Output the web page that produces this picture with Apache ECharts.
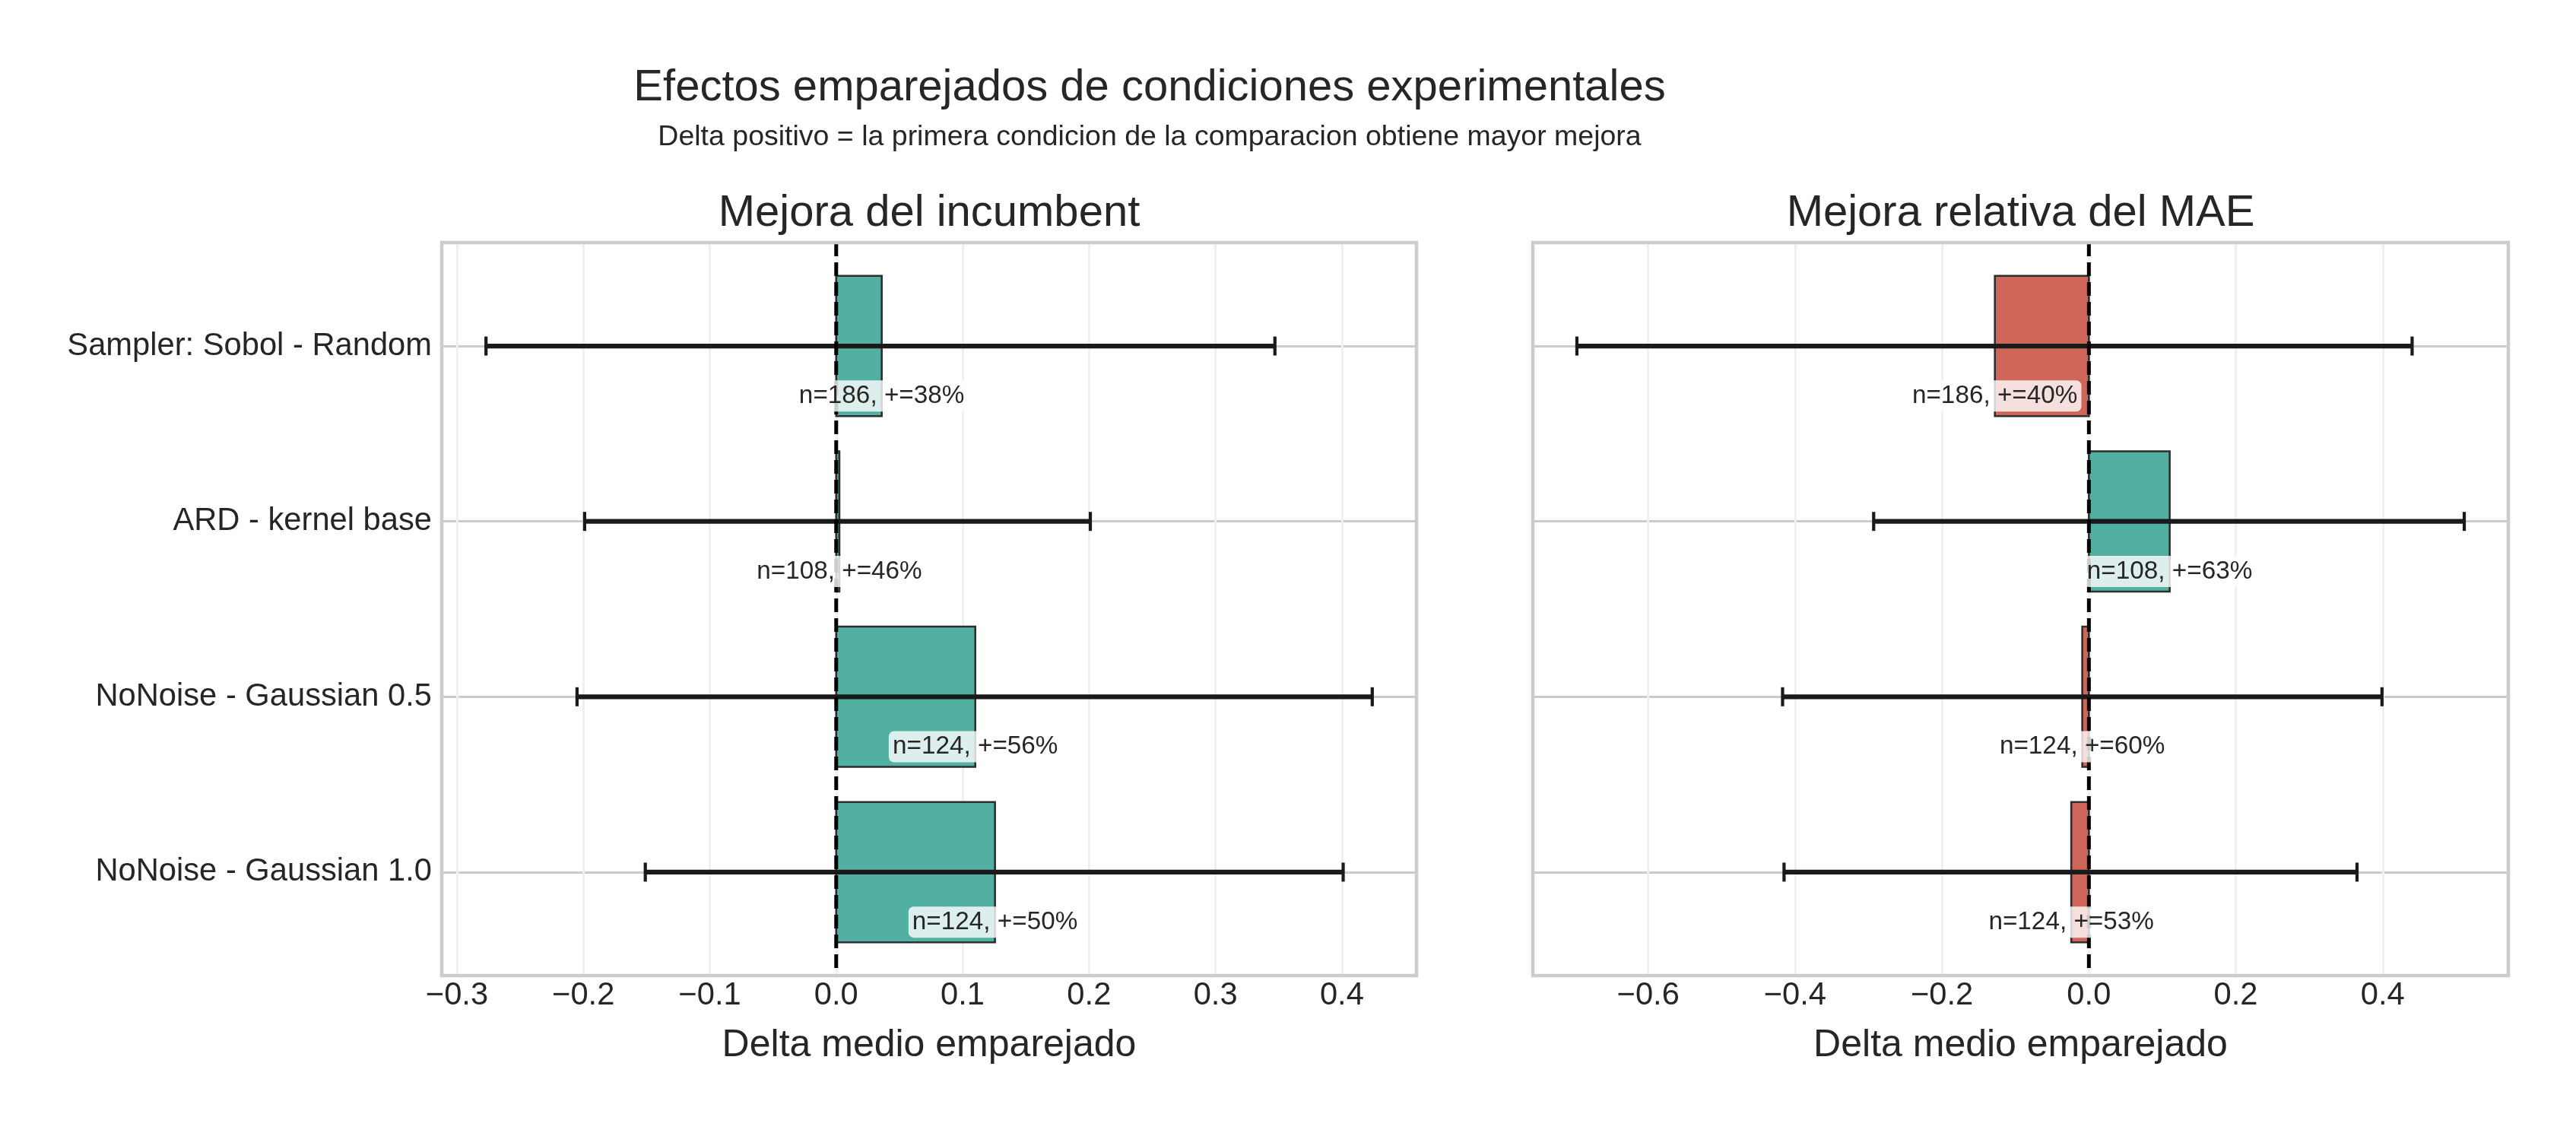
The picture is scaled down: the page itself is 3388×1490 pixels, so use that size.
<!DOCTYPE html>
<html><head><meta charset="utf-8">
<script src="https://cdn.jsdelivr.net/npm/echarts@6/dist/echarts.min.js"></script>
<style>html,body{margin:0;padding:0;background:#fff}#c{width:3388px;height:1490px}</style>
</head><body><div id="c"></div>
<script>
// ---------------- data ----------------
const categories = ["Sampler: Sobol - Random", "ARD - kernel base", "NoNoise - Gaussian 0.5", "NoNoise - Gaussian 1.0"];

const incMean = [0.036, 0.0025, 0.110, 0.1256];
const incLow  = [-0.277, -0.199, -0.205, -0.151];
const incHigh = [0.347, 0.201, 0.424, 0.401];
const incN    = [186, 108, 124, 124];
const incPosPct = [38, 46, 56, 50];

const maeMean = [-0.128, 0.110, -0.009, -0.024];
const maeLow  = [-0.697, -0.293, -0.417, -0.415];
const maeHigh = [0.440, 0.511, 0.399, 0.365];
const maeN    = [186, 108, 124, 124];
const maePosPct = [40, 63, 60, 53];

const incXLimits = [-0.312, 0.459];
const maeXLimits = [-0.757, 0.571];
const incTickStep = 0.1;
const maeTickStep = 0.2;

const mainTitle = "Efectos emparejados de condiciones experimentales";
const subTitle = "Delta positivo = la primera condicion de la comparacion obtiene mayor mejora";
const panelTitles = ["Mejora del incumbent", "Mejora relativa del MAE"];
const xAxisName = "Delta medio emparejado";

// ---------------- layout / style ----------------
const FONT = "'Liberation Sans', Arial, Helvetica, sans-serif";
const TXT = '#262626';
const POS = '#52b0a3', NEG = '#ce675a';
const W = 3388, H = 1490;
const yMin = -0.59, yMax = 3.59;
const frameTop = 319, frameBottom = 1283;
const frameH = frameBottom - frameTop;
const unit = frameH / (yMax - yMin);
const catTop = frameTop + (0 - yMin) * unit;
const catH = (categories.length - 1) * unit;
const panels = [
  {x0: 581, x1: 1863},
  {x0: 2016, x1: 3299}
];

function rows(mean, lo, hi, n, pct) {
  return mean.map((m, i) => [i, m, lo[i], hi[i], n[i], pct[i]]);
}
const panelData = [
  rows(incMean, incLow, incHigh, incN, incPosPct),
  rows(maeMean, maeLow, maeHigh, maeN, maePosPct)
];
const panelLimits = [incXLimits, maeXLimits];
const panelSteps = [incTickStep, maeTickStep];

function fmtTick(v) {
  const s = (Math.abs(v) < 1e-9 ? 0 : v).toFixed(1);
  return s.replace('-', '\u2212');
}

function renderBars(params, api) {
  const i = api.value(0), m = api.value(1), lo = api.value(2), hi = api.value(3);
  const a = api.coord([0, i - 0.4]), b = api.coord([m, i + 0.4]);
  const l = api.coord([lo, i]), h = api.coord([hi, i]);
  const cap = 12.5;
  return {
    type: 'group',
    children: [
      {type: 'rect', shape: {x: Math.min(a[0], b[0]), y: Math.min(a[1], b[1]), width: Math.abs(b[0] - a[0]), height: Math.abs(b[1] - a[1])},
       style: {fill: m >= 0 ? POS : NEG, stroke: '#2e2e2e', lineWidth: 2.6}},
      {type: 'line', shape: {x1: l[0], y1: l[1], x2: h[0], y2: h[1]}, style: {stroke: '#1a1a1a', lineWidth: 6.2}},
      {type: 'line', shape: {x1: l[0], y1: l[1] - cap, x2: l[0], y2: l[1] + cap}, style: {stroke: '#1a1a1a', lineWidth: 4.2}},
      {type: 'line', shape: {x1: h[0], y1: h[1] - cap, x2: h[0], y2: h[1] + cap}, style: {stroke: '#1a1a1a', lineWidth: 4.2}}
    ]
  };
}
function renderZero(params, api) {
  const x = api.coord([api.value(0), 0])[0];
  const cs = params.coordSys;
  return {type: 'line', shape: {x1: x, y1: cs.y, x2: x, y2: cs.y + cs.height},
          style: {stroke: '#000000', lineWidth: 5, lineDash: [18, 8]}};
}
function renderLabels(params, api) {
  const i = api.value(0), m = api.value(1), n = api.value(4), pct = api.value(5);
  const p = api.coord([m, i + 0.285]);
  return {type: 'text', x: p[0], y: p[1],
    style: {text: 'n=' + n + ', +=' + pct + '%', fontSize: 33.3, fontFamily: FONT, fill: TXT,
            align: 'center', verticalAlign: 'middle', textAlign: 'center', textVerticalAlign: 'middle',
            backgroundColor: 'rgba(255,255,255,0.8)', padding: [4, 5], borderRadius: 7}};
}

const grid = [], xAxis = [], yAxis = [], series = [];
panels.forEach((p, k) => {
  const fg = grid.length;
  grid.push({left: p.x0, width: p.x1 - p.x0, top: frameTop, height: frameH, show: true,
             borderColor: '#cccccc', borderWidth: 4.5, backgroundColor: 'transparent', z: 10,
             containLabel: false, outerBoundsMode: 'none'});
  grid.push({left: p.x0, width: p.x1 - p.x0, top: catTop, height: catH, show: false,
             containLabel: false, outerBoundsMode: 'none'});
  xAxis.push({type: 'value', gridIndex: fg, min: panelLimits[k][0], max: panelLimits[k][1],
    minInterval: panelSteps[k], maxInterval: panelSteps[k], splitNumber: 8,
    axisLine: {show: false}, axisTick: {show: false},
    splitLine: {show: true, lineStyle: {color: '#f0f0f0', width: 3}},
    axisLabel: {show: true, fontSize: 41.7, fontFamily: FONT, color: TXT, margin: 6,
                showMinLabel: false, showMaxLabel: false, formatter: fmtTick},
    name: xAxisName, nameLocation: 'middle', nameGap: 67,
    nameTextStyle: {fontSize: 50, fontFamily: FONT, color: TXT}});
  xAxis.push({type: 'value', gridIndex: fg + 1, min: panelLimits[k][0], max: panelLimits[k][1], show: false});
  yAxis.push({type: 'value', gridIndex: fg, min: yMin, max: yMax, inverse: true, show: false});
  yAxis.push({type: 'category', gridIndex: fg + 1, data: categories, boundaryGap: false, inverse: true,
    axisLine: {show: false}, axisTick: {show: false},
    splitLine: {show: true, lineStyle: {color: '#cccccc', width: 3}},
    axisLabel: {show: k === 0, fontSize: 41.7, fontFamily: FONT, color: TXT, margin: 13}});
  const xi = xAxis.length - 2, yi = yAxis.length - 2;
  series.push({type: 'custom', xAxisIndex: xi, yAxisIndex: yi, z: 2, clip: false,
    data: panelData[k], encode: {x: [1, 2, 3], y: 0}, renderItem: renderBars, silent: true});
  series.push({type: 'custom', xAxisIndex: xi, yAxisIndex: yi, z: 3, clip: false,
    data: [[0, 0]], encode: {x: 0, y: 1}, renderItem: renderZero, silent: true});
  series.push({type: 'custom', xAxisIndex: xi, yAxisIndex: yi, z: 4, clip: false,
    data: panelData[k], encode: {x: 1, y: 0}, renderItem: renderLabels, silent: true});
});

const titleBase = {textAlign: 'center', padding: 0, textStyle: {fontFamily: FONT, color: TXT, fontWeight: 'normal'}};
const title = [
  Object.assign({}, titleBase, {text: mainTitle, left: 1512, top: 87, textStyle: Object.assign({}, titleBase.textStyle, {fontSize: 58})}),
  Object.assign({}, titleBase, {text: subTitle, left: 1512, top: 162, textStyle: Object.assign({}, titleBase.textStyle, {fontSize: 37.5})}),
  Object.assign({}, titleBase, {text: panelTitles[0], left: (panels[0].x0 + panels[0].x1) / 2, top: 252, textStyle: Object.assign({}, titleBase.textStyle, {fontSize: 58})}),
  Object.assign({}, titleBase, {text: panelTitles[1], left: (panels[1].x0 + panels[1].x1) / 2, top: 252, textStyle: Object.assign({}, titleBase.textStyle, {fontSize: 58})})
];

const chart = echarts.init(document.getElementById('c'), null, {renderer: 'canvas', width: W, height: H});
chart.setOption({
  backgroundColor: '#ffffff',
  animation: false,
  textStyle: {fontFamily: FONT},
  title: title,
  grid: grid, xAxis: xAxis, yAxis: yAxis, series: series
});
</script>
</body></html>
